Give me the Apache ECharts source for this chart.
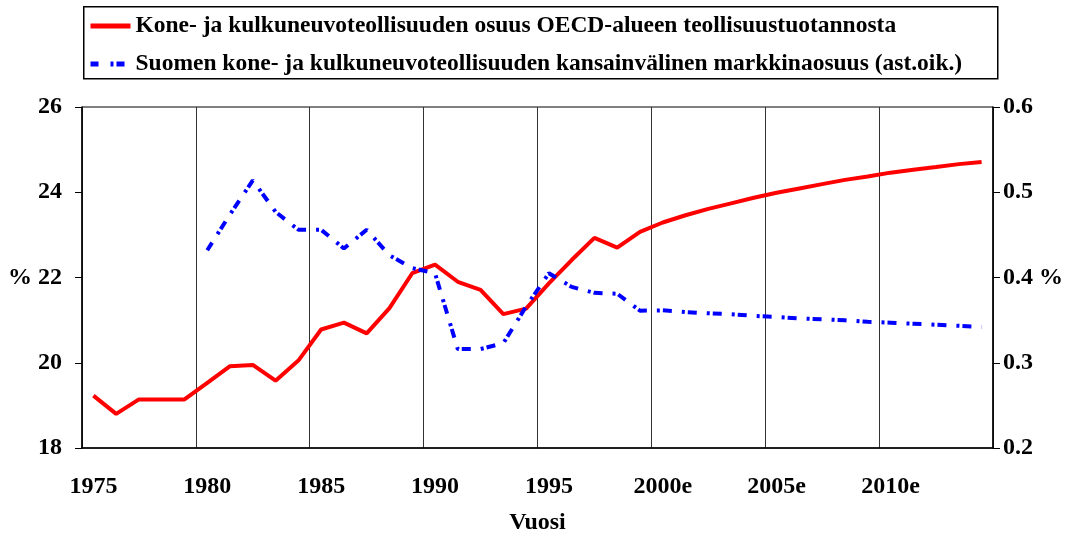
<!DOCTYPE html>
<html>
<head>
    <meta charset="utf-8">
    <title>osuus</title>
    <script src="https://cdn.jsdelivr.net/npm/echarts@6/dist/echarts.min.js"></script>
</head>
<body style="margin:0">
    <div id="chart" style="width: 1073px;height:535px;"></div>
    <script type="text/javascript">
        var years = ['1975','1976','1977','1978','1979','1980','1981','1982','1983','1984',
                     '1985','1986','1987','1988','1989','1990','1991','1992','1993','1994',
                     '1995','1996','1997','1998','1999','2000e','2001e','2002e','2003e','2004e',
                     '2005e','2006e','2007e','2008e','2009e','2010e','2011e','2012e','2013e','2014e'];
        var oecdShare = [19.23, 18.80, 19.14, 19.14, 19.14, 19.53, 19.92, 19.95, 19.58, 20.05,
                         20.78, 20.94, 20.69, 21.28, 22.10, 22.30, 21.90, 21.71, 21.14, 21.27,
                         21.86, 22.41, 22.93, 22.70, 23.07, 23.29, 23.46, 23.61, 23.74, 23.87,
                         23.99, 24.09, 24.19, 24.29, 24.37, 24.46, 24.53, 24.59, 24.66, 24.71];
        var finlandShare = [null, null, null, null, null, 0.432, 0.474, 0.514, 0.477, 0.456,
                            0.456, 0.434, 0.456, 0.426, 0.411, 0.405, 0.316, 0.316, 0.323, 0.366,
                            0.405, 0.389, 0.382, 0.381, 0.361, 0.3615, 0.3595, 0.358, 0.357, 0.355,
                            0.3537, 0.352, 0.351, 0.3498, 0.348, 0.347, 0.3458, 0.3446, 0.3434, 0.342];
        var name1 = 'Kone- ja kulkuneuvoteollisuuden osuus OECD-alueen teollisuustuotannosta';
        var name2 = 'Suomen kone- ja kulkuneuvoteollisuuden kansainvälinen markkinaosuus (ast.oik.)';

        var font = 'Liberation Serif';
        var lbl = {color: '#000', fontFamily: font, fontWeight: 'bold', fontSize: 24};
        var dash = [9, 10, 3, 3];

        var myChart = echarts.init(document.getElementById('chart'));
        var option = {
            animation: false,
            backgroundColor: '#fff',
            grid: {left: 82, right: 80, top: 107, bottom: 87, outerBoundsMode: 'none',
                   show: true, borderColor: '#000', borderWidth: 1},
            graphic: [{
                type: 'rect', left: 83, top: 6, z: -1,
                shape: {width: 914, height: 72},
                style: {fill: '#fff', stroke: '#000', lineWidth: 1.5}
            }],
            legend: {
                orient: 'vertical', left: 88, top: 14, padding: 0,
                itemWidth: 40, itemHeight: 14, itemGap: 14,
                itemStyle: {opacity: 0},
                textStyle: {color: '#000', fontFamily: font, fontWeight: 'bold', fontSize: 23.5, lineHeight: 23},
                data: [
                    {name: name1, lineStyle: {color: '#ff0000', width: 5}},
                    {name: name2, lineStyle: {color: '#0000ff', width: 5, type: [8, 12, 3, 3]}}
                ]
            },
            xAxis: {
                type: 'category', data: years, boundaryGap: true,
                name: 'Vuosi', nameLocation: 'middle', nameGap: 63,
                nameTextStyle: lbl,
                axisLine: {lineStyle: {color: '#000', width: 1.5}},
                axisTick: {interval: 4, length: 6, lineStyle: {color: '#000'}},
                axisLabel: Object.assign({interval: 4, margin: 27}, lbl),
                splitLine: {show: true, interval: 4, lineStyle: {color: '#333', width: 1}}
            },
            yAxis: [{
                type: 'value', min: 18, max: 26, interval: 2,
                axisLine: {show: true, lineStyle: {color: '#000', width: 1.5}},
                axisTick: {show: true, length: 7, lineStyle: {color: '#000'}},
                axisLabel: Object.assign({margin: 20, formatter: function (v) { return v === 22 ? '% 22' : v; }}, lbl),
                splitLine: {show: false}
            }, {
                type: 'value', min: 0.2, max: 0.6, interval: 0.1,
                axisLine: {show: true, lineStyle: {color: '#000', width: 1.5}},
                axisTick: {show: true, length: 7, lineStyle: {color: '#000'}},
                axisLabel: Object.assign({margin: 10, formatter: function (v) {
                    var s = v.toFixed(1); return s === '0.4' ? '0.4 %' : s; }}, lbl),
                splitLine: {show: false}
            }],
            series: [{
                name: name1, type: 'line', yAxisIndex: 0, data: oecdShare,
                symbol: 'none', color: '#ff0000',
                lineStyle: {color: '#ff0000', width: 4}
            }, {
                name: name2, type: 'line', yAxisIndex: 1, data: finlandShare,
                symbol: 'none', color: '#0000ff',
                lineStyle: {color: '#0000ff', width: 4, type: dash}
            }]
        };
        myChart.setOption(option);
    </script>
</body>
</html>
